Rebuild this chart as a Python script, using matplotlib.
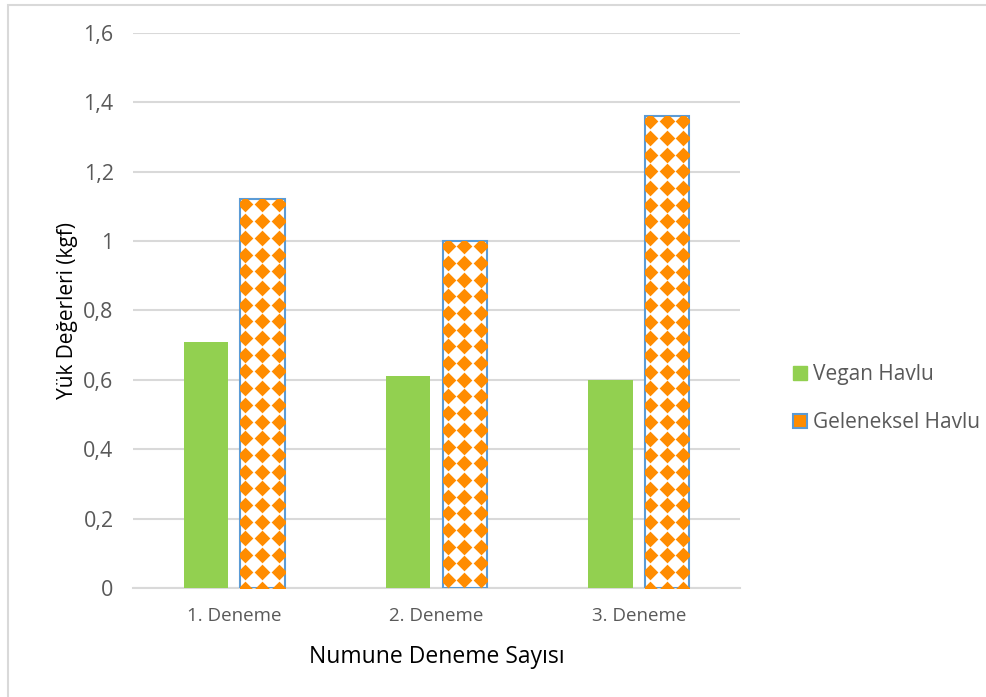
import numpy as np
import matplotlib.pyplot as plt
from matplotlib.patches import Patch, Rectangle

plt.rcParams['font.family'] = ['Open Sans', 'DejaVu Sans']

denemeler = ["1. Deneme", "2. Deneme", "3. Deneme"]
vegan = [0.71, 0.61, 0.60]
geleneksel = [1.12, 1.00, 1.36]

YESIL = "#92D050"
TURUNCU = "#FF8C00"
MAVI = "#5B9BD5"
GRI = "#595959"
IZGARA = "#D9D9D9"

fig = plt.figure(figsize=(9.87, 6.97), dpi=100)
ax = fig.add_axes([0.1348, 0.1564, 0.6149, 0.7963])

x = np.arange(len(denemeler))
w = 0.22
ax.set_xlim(-0.5, 2.5)
ax.set_ylim(0, 1.6)

ax.bar(x - 0.14, vegan, w, color=YESIL, zorder=3)
gel = ax.bar(x + 0.14, geleneksel, w, facecolor="white", edgecolor=MAVI,
             linewidth=1.5, zorder=3)

# orange diamond pattern inside the second series, clipped to each bar
px_x = 0.6149 * 987 / 3.0          # pixels per x unit
px_y = 0.7963 * 697 / 1.6          # pixels per y unit
adim = 16.7
for b in gel:
    x0, w0, h0 = b.get_x(), b.get_width(), b.get_height()
    xs = x0 + (np.arange(-1, 5) * adim + 5) / px_x
    ys = h0 - (np.arange(0, int(h0 * px_y / adim) + 2) * adim + 5) / px_y
    gx, gy = np.meshgrid(xs, ys)
    sc = ax.scatter(gx.ravel(), gy.ravel(), marker="D", s=64, color=TURUNCU,
                    linewidths=0, zorder=4)
    sc.set_clip_path(b)

ax.set_yticks(np.arange(0, 1.61, 0.2))
ax.set_yticklabels(["0" if v == 0 else ("1" if abs(v - 1) < 1e-9 else f"{v:.1f}".replace(".", ","))
                    for v in np.arange(0, 1.61, 0.2)])
ax.set_xticks(x)
ax.set_xticklabels(denemeler)
ax.grid(axis="y", color=IZGARA, linewidth=1.5, zorder=0)
for s in ["top", "right", "left"]:
    ax.spines[s].set_visible(False)
ax.spines["bottom"].set_color(IZGARA)
ax.spines["bottom"].set_linewidth(1.5)
ax.tick_params(axis="y", length=0, pad=14, labelsize=15.5, labelcolor=GRI)
ax.tick_params(axis="x", length=0, pad=14, labelsize=13.5, labelcolor=GRI)

ax.set_xlabel("Numune Deneme Sayısı", fontsize=16.5, color="black", labelpad=14)
ax.set_ylabel("Yük Değerleri (kgf)", fontsize=15, color="black", labelpad=4)

handles = [Patch(facecolor=YESIL, edgecolor=YESIL),
           Patch(facecolor=TURUNCU, edgecolor=MAVI, linewidth=1.5)]
fig.legend(handles, ["Vegan Havlu", "Geleneksel Havlu"], loc="center left",
           bbox_to_anchor=(0.793, 0.428), frameon=False, fontsize=15,
           labelcolor=GRI, handlelength=0.65, handleheight=0.65,
           handletextpad=0.3, labelspacing=1.3, borderpad=0)

fig.patches.append(Rectangle((0.008, -0.05), 1.1, 0.05 + 1 - 5 / 697,
                             transform=fig.transFigure, fill=False,
                             edgecolor=IZGARA, linewidth=1.5))

fig.savefig("out.png", dpi=100)
